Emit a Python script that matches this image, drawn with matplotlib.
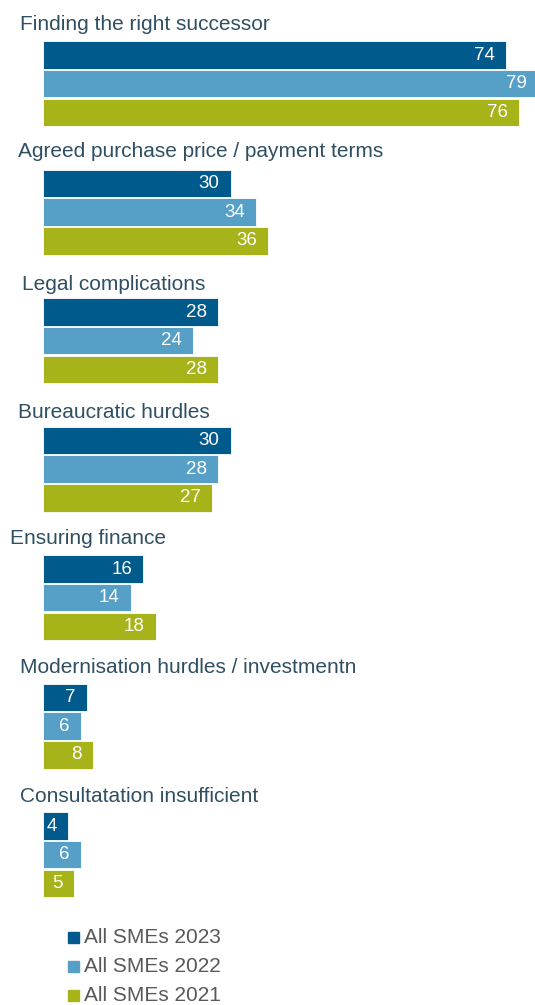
import matplotlib.pyplot as plt
import matplotlib.patches as mpatches

# reasons for failed succession, share in percent
categories = [
    "Finding the right successor",
    "Agreed purchase price / payment terms",
    "Legal complications",
    "Bureaucratic hurdles",
    "Ensuring finance",
    "Modernisation hurdles / investmentn",
    "Consultatation insufficient",
]
smes_2023 = [74, 30, 28, 30, 16, 7, 4]
smes_2022 = [79, 34, 24, 28, 14, 6, 6]
smes_2021 = [76, 36, 28, 27, 18, 8, 5]
series_names = ["All SMEs 2023", "All SMEs 2022", "All SMEs 2021"]

colors = ["#005a8c", "#56a0c8", "#a6b41a"]
title_color = "#2f4f62"
legend_color = "#595959"

W, H = 535, 1005
plt.rcParams['font.family'] = ['Liberation Sans', 'DejaVu Sans']

fig = plt.figure(figsize=(W / 100, H / 100), dpi=100)
left_px = 43
px_per_unit = 6.26
ax = fig.add_axes([left_px / W, 0, 1 - left_px / W, 1])
ax.set_xlim(0, (W - left_px) / px_per_unit)
ax.set_ylim(H, 0)
ax.axis("off")

group_top = 55.0     # centre of the first bar, pixels from top
group_step = 128.5
bar_step = 28.7
bar_h = 27.5
title_dx = [20, 18, 22, 18, 10, 20, 20]
title_dy = [30, 32, 27, 28, 30, 30, 30]

series = [smes_2023, smes_2022, smes_2021]
for i, cat in enumerate(categories):
    y0 = group_top + i * group_step
    fig.text(title_dx[i] / W, 1 - (y0 - title_dy[i]) / H, cat,
             fontsize=15, color=title_color, va="center", ha="left")
    for j, vals in enumerate(series):
        y = y0 + j * bar_step
        ax.barh(y, vals[i], height=bar_h, color=colors[j],
                edgecolor="white", linewidth=0.6)
        ax.annotate(str(vals[i]), (vals[i], y), xytext=(-8, 0),
                    textcoords="offset points", ha="right", va="center",
                    color="white", fontsize=13.5, annotation_clip=False)

# legend drawn as squares with labels below the bars
for j, name in enumerate(series_names):
    cy = 937.5 + j * 29
    fig.patches.append(mpatches.Rectangle((68 / W, 1 - (cy + 5.5) / H), 11 / W, 11 / H,
                                          transform=fig.transFigure, color=colors[j]))
    fig.text(84 / W, 1 - cy / H, name, fontsize=15, color=legend_color,
             va="center", ha="left")

fig.savefig("out.png", dpi=100, facecolor="white")
